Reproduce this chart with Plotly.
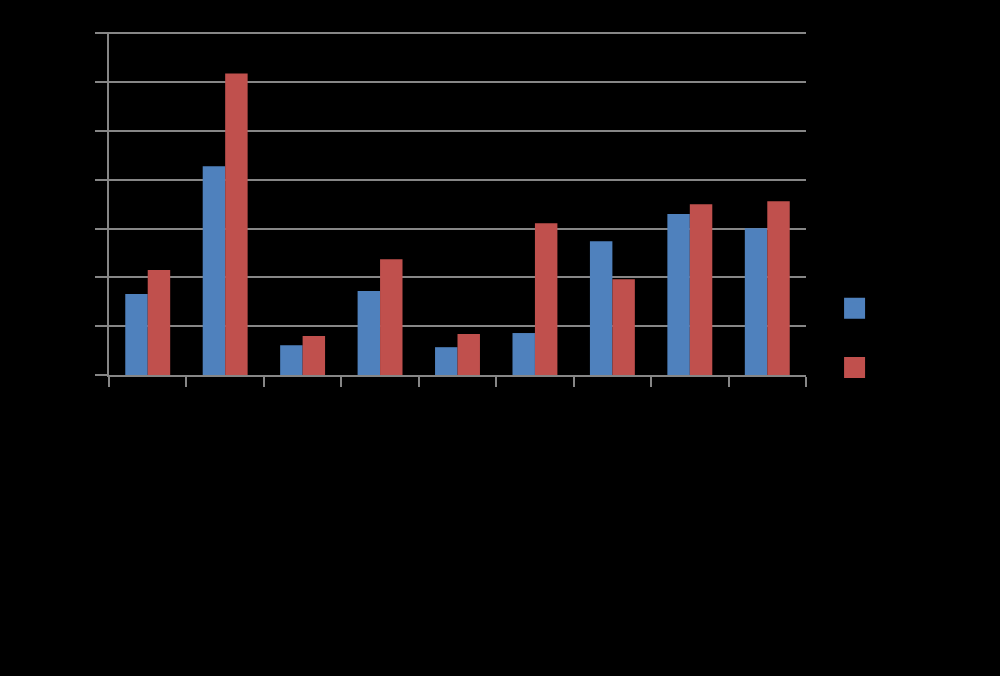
import plotly.graph_objects as go

categories = ["Category 1", "Category 2", "Category 3", "Category 4", "Category 5",
              "Category 6", "Category 7", "Category 8", "Category 9"]
series_a_name = "Series 1"
series_b_name = "Series 2"
series_a = [16.6, 42.8, 6.1, 17.2, 5.7, 8.6, 27.4, 33.0, 30.1]
series_b = [21.5, 61.8, 8.0, 23.7, 8.4, 31.1, 19.6, 35.0, 35.6]
y_ticks = [0, 10, 20, 30, 40, 50, 60, 70]

blue = "#4F81BD"
red = "#C0504D"
grid = "#868686"

fig = go.Figure()
fig.add_trace(go.Bar(x=categories, y=series_a, name=series_a_name, showlegend=False,
                     marker=dict(color=blue, line=dict(width=0))))
fig.add_trace(go.Bar(x=categories, y=series_b, name=series_b_name, showlegend=False,
                     marker=dict(color=red, line=dict(width=0))))
# legend entries with larger square keys
for nm, col, grp in [(series_a_name, blue, "a"), (series_b_name, red, "b")]:
    fig.add_trace(go.Scatter(x=[None], y=[None], mode="markers", name=nm, legendgroup=grp,
                             marker=dict(symbol="square", size=16, color=col,
                                         line=dict(color=col, width=5))))

fig.update_layout(
    width=1000, height=676,
    paper_bgcolor="#000000", plot_bgcolor="#000000",
    margin=dict(l=109, r=194, t=32, b=301, autoexpand=False),
    barmode="group", bargap=0.42, bargroupgap=0,
    font=dict(family="Liberation Sans, Arial", size=13, color="#000000"),
    showlegend=True,
    legend=dict(x=1.041, y=0.24, xanchor="left", yanchor="top",
                bgcolor="rgba(0,0,0,0)", font=dict(size=14, color="#000000"),
                tracegroupgap=38, itemsizing="trace"),
    xaxis=dict(showline=True, linecolor=grid, linewidth=1.5, ticks="outside",
               tickson="boundaries", ticklen=10, tickcolor=grid, tickwidth=1.5,
               showgrid=False, tickangle=-45, tickfont=dict(color="#000000")),
    yaxis=dict(range=[0, 70.3], tickvals=y_ticks, showline=True, linecolor=grid,
               linewidth=1.5, ticks="outside", ticklen=12, tickcolor=grid,
               tickwidth=1.5, showgrid=True, gridcolor=grid, gridwidth=1.5,
               zeroline=False, tickfont=dict(color="#000000")),
)

fig.write_html("out.html", config={"displayModeBar": False},
               post_script="document.body.style.margin='0';document.body.style.background='#000';")
